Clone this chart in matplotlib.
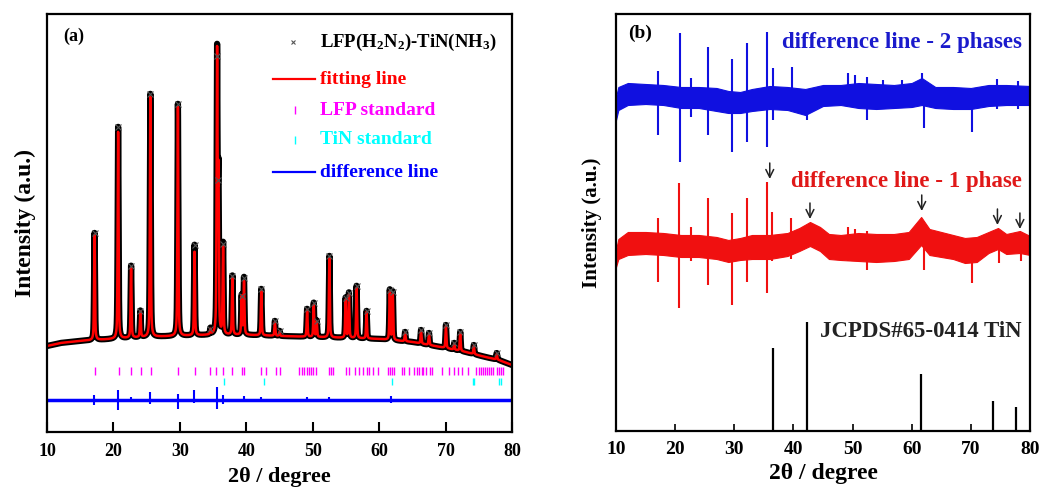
import numpy as np
import matplotlib.pyplot as plt

plt.rcParams['font.family'] = ['Liberation Serif', 'DejaVu Serif']
plt.rcParams['font.weight'] = 'bold'
plt.rcParams['mathtext.fontset'] = 'custom'
plt.rcParams['mathtext.rm'] = 'Liberation Serif:bold'
plt.rcParams['mathtext.it'] = 'Liberation Serif:italic:bold'
plt.rcParams['mathtext.bf'] = 'Liberation Serif:bold'

# ---- (a) Rietveld refinement ----
bg_x = [10, 12, 15, 20, 25, 30, 35, 40, 45, 50, 55, 60, 65, 70, 73, 76, 78, 80]
bg_y = [86, 89, 91, 93, 95, 96, 97, 97, 96, 95, 94, 93, 90, 84, 80, 75, 72, 67]

peak_pos = [17.15, 20.7, 22.65, 24.05, 25.55, 29.7, 32.2, 34.6, 35.6, 35.8, 36.5,
            37.9, 39.3, 39.65, 42.25, 44.3, 45.0, 49.15, 50.15, 50.6, 52.5, 54.95,
            55.45, 56.6, 58.1, 61.6, 62.05, 63.9, 66.3, 67.5, 70.05, 71.3, 72.2,
            74.25, 77.7]
peak_fit = [197, 300, 164, 120, 335, 325, 180, 102, 374, 250, 184,
            154, 135, 150, 141, 110, 100, 122, 127, 110, 174, 132,
            137, 144, 120, 140, 138, 99, 101, 98, 106, 88, 99,
            86, 78]
peak_obs = [199, 305, 166, 121, 338, 328, 187, 103, 376, 252, 188,
            156, 136, 154, 143, 111, 101, 123, 129, 111, 176, 134,
            139, 146, 121, 142, 140, 100, 102, 99, 107, 89, 100,
            87, 79]

lfp_ticks = [17.2, 20.8, 22.7, 24.1, 25.6, 29.7, 32.2, 34.6, 35.5, 36.5, 37.9,
             39.3, 39.6, 42.2, 42.9, 44.4, 45.0, 48.0, 48.4, 48.7, 49.1, 49.4,
             49.8, 50.1, 50.5, 52.5, 52.8, 53.1, 55.0, 55.4, 56.4, 57.0, 57.5,
             58.2, 58.5, 59.1, 59.9, 61.4, 61.7, 61.9, 62.2, 63.5, 63.8, 64.5,
             65.3, 65.7, 66.0, 66.4, 66.6, 67.1, 67.6, 68.0, 69.4, 70.5, 71.2,
             71.9, 72.4, 73.4, 74.6, 75.0, 75.3, 75.6, 75.9, 76.2, 76.5, 76.8,
             77.1, 77.8, 78.1, 78.4, 78.6]
tin_ticks = [36.7, 42.7, 62.0, 74.1, 74.3, 78.0, 78.3]

diff_a_base = 32
diff_a_pos = [17.1, 20.7, 22.7, 25.5, 29.7, 32.1, 35.6, 36.5, 39.6, 42.2, 49.2, 52.5, 61.8]
diff_a_up = [37, 42, 35, 40, 38, 42, 45, 37, 36, 35, 35, 35, 36]
diff_a_dn = [27, 22, 30, 28, 23, 29, 23, 28, 30, 30, 30, 30, 29]

# ---- (b) difference curves and TiN reference ----
blue_x = [10.0, 10.4, 12, 15, 18, 21, 24, 27, 29, 31, 33, 36, 39, 42, 45, 48,
          51, 54, 57, 60, 61.7, 64, 67, 70, 73, 76, 80]
blue_hi = [334, 344, 348, 347, 346, 344, 344, 343, 340, 339, 342, 345, 344, 342,
           346, 346, 348, 347, 346, 348, 353, 344, 344, 343, 346, 346, 345]
blue_lo = [311, 321, 326, 327, 326, 323, 323, 320, 318, 318, 320, 322, 321, 316,
           325, 326, 323, 322, 323, 324, 326, 323, 322, 322, 325, 326, 326]

red_x = [10.0, 10.4, 12, 15, 18, 21, 24, 27, 29, 31, 33, 36, 39, 41, 42.8, 44.5,
         46, 48, 51, 54, 57, 59.5, 61.6, 63, 65, 67, 69, 71, 73, 74.6, 76, 78.3, 80]
red_hi = [181, 192, 199, 199, 198, 196, 196, 194, 191, 193, 196, 196, 198, 203,
          209, 204, 197, 196, 198, 197, 197, 199, 214, 202, 199, 196, 193, 194,
          199, 203, 197, 200, 195]
red_lo = [164, 172, 176, 177, 176, 174, 174, 172, 169, 171, 172, 172, 175, 180,
          185, 180, 172, 171, 170, 169, 170, 172, 186, 176, 174, 172, 168, 169,
          178, 182, 177, 178, 176]

blue_spk_pos = [17.1, 20.8, 22.6, 25.5, 29.7, 32.2, 35.6, 36.5, 39.7, 42.3, 49.3,
                50.4, 52.4, 55.2, 58.3, 61.7, 62.1, 70.2, 74.4, 78.0]
blue_spk_up = [360, 398, 353, 384, 372, 388, 399, 363, 364, 340, 358,
               356, 354, 351, 351, 358, 345, 340, 352, 350]
blue_spk_dn = [296, 269, 314, 296, 279, 289, 284, 311, 323, 311, 325,
               325, 311, 325, 325, 326, 303, 299, 322, 322]

red_spk_pos = [17.1, 20.7, 22.6, 25.5, 29.7, 32.2, 35.5, 36.4, 39.6, 49.3, 50.4,
               52.4, 62.0, 70.2, 74.8, 78.4]
red_spk_up = [213, 248, 204, 233, 218, 233, 249, 219, 213, 204, 202,
              200, 200, 190, 200, 198]
red_spk_dn = [149, 123, 170, 146, 126, 149, 138, 170, 172, 170, 170,
              161, 161, 148, 168, 170]

tin_ref_pos = [36.5, 42.35, 61.6, 73.8, 77.6]
tin_ref_int = [83, 109, 57, 30, 24]

arrow_x = [36.0, 42.8, 61.7, 74.5, 78.3]
arrow_top = [268, 228, 236, 222, 218]
arrow_tip = [252, 212, 220, 206, 202]


def pv(x, c, h, w=0.16):
    g = np.exp(-4 * np.log(2) * ((x - c) / w) ** 2)
    l = 1 / (1 + 4 * ((x - c) / w) ** 2)
    return h * (0.5 * g + 0.5 * l)


def profile(x, tops):
    base = np.interp(x, bg_x, bg_y)
    y = base.copy()
    for c, t in zip(peak_pos, tops):
        y += pv(x, c, t - np.interp(c, bg_x, bg_y))
    return y


fig = plt.figure(figsize=(10.43, 4.93), dpi=100)
ax1 = fig.add_axes([0.0451, 0.1237, 0.4458, 0.8479])
ax2 = fig.add_axes([0.5906, 0.1258, 0.3969, 0.8458])

tt = np.linspace(10, 80, 14001)
ax1.plot(tt, profile(tt, peak_obs), color='black', lw=4.5, solid_capstyle='butt')
ax1.plot(tt, profile(tt, peak_fit), color='red', lw=1.8)
ax1.plot(peak_pos, peak_obs, ls='none', marker='x', ms=4, mew=0.8, color='#555555')
ax1.vlines(lfp_ticks, 57, 65, color='magenta', lw=1)
ax1.vlines(tin_ticks, 47, 54, color='cyan', lw=1)
ax1.plot([10, 80], [diff_a_base, diff_a_base], color='blue', lw=2.5)
ax1.vlines(diff_a_pos, diff_a_dn, diff_a_up, color='blue', lw=1.5)

ax1.set_xlim(10, 80)
ax1.set_ylim(0, 418)
ax1.set_yticks([])
ax1.set_xticks(range(10, 81, 10))
ax1.tick_params(axis='x', direction='in', length=7, width=1.5, labelsize=13, pad=8)
ax1.set_xlabel('2θ / degree', fontsize=16, fontweight='bold', labelpad=5)
ax1.set_ylabel('Intensity (a.u.)', fontsize=17, fontweight='bold', labelpad=8)
for s in ax1.spines.values():
    s.set_linewidth(1.6)
ax1.text(0.034, 0.947, '(a)', transform=ax1.transAxes, fontsize=13, va='center')

# hand-placed legend
ta = ax1.transAxes
ax1.plot([0.529], [0.933], transform=ta, marker='x', ms=3, mew=0.8, color='#555555')
ax1.text(0.587, 0.933, 'LFP(H$_2$N$_2$)-TiN(NH$_3$)', transform=ta, fontsize=13.5,
         va='center', color='black')
ax1.plot([0.486, 0.576], [0.844, 0.844], transform=ta, color='red', lw=1.6)
ax1.text(0.587, 0.844, 'fitting line', transform=ta, fontsize=14, va='center', color='red')
ax1.plot([0.533], [0.770], transform=ta, marker='|', ms=6, mew=1, color='magenta')
ax1.text(0.587, 0.770, 'LFP standard', transform=ta, fontsize=14, va='center', color='magenta')
ax1.plot([0.533], [0.699], transform=ta, marker='|', ms=6, mew=1, color='cyan')
ax1.text(0.587, 0.699, 'TiN standard', transform=ta, fontsize=14, va='center', color='cyan')
ax1.plot([0.486, 0.576], [0.622, 0.622], transform=ta, color='blue', lw=1.6)
ax1.text(0.587, 0.622, 'difference line', transform=ta, fontsize=14, va='center', color='blue')

# (b)
ax2.fill_between(blue_x, blue_lo, blue_hi, color='#1010e0', lw=0.8)
ax2.vlines(blue_spk_pos, blue_spk_dn, blue_spk_up, color='#1010e0', lw=1.5)
ax2.fill_between(red_x, red_lo, red_hi, color='#f01010', lw=0.8)
ax2.vlines(red_spk_pos, red_spk_dn, red_spk_up, color='#f01010', lw=1.5)
ax2.vlines(tin_ref_pos, 0, tin_ref_int, color='black', lw=1.6)
for xa, y0, y1 in zip(arrow_x, arrow_top, arrow_tip):
    ax2.annotate('', xy=(xa, y1), xytext=(xa, y0),
                 arrowprops=dict(arrowstyle='->', color='#222222', lw=1.1,
                                 mutation_scale=14, shrinkA=0, shrinkB=0))

ax2.text(78.6, 388, 'difference line - 2 phases', color='#1a1acc', fontsize=16.5,
         ha='right', va='center')
ax2.text(78.6, 249, 'difference line - 1 phase', color='#e01818', fontsize=16.5,
         ha='right', va='center')
ax2.text(78.6, 99, 'JCPDS#65-0414 TiN', color='#222222', fontsize=16.5,
         ha='right', va='center')
ax2.text(0.029, 0.954, '(b)', transform=ax2.transAxes, fontsize=14, va='center')

ax2.set_xlim(10, 80)
ax2.set_ylim(0, 417)
ax2.set_yticks([])
ax2.set_xticks(range(10, 81, 10))
ax2.tick_params(axis='x', direction='in', length=5, width=1.2, labelsize=14, pad=7)
ax2.set_xlabel('2θ / degree', fontsize=17, fontweight='bold', labelpad=4)
ax2.set_ylabel('Intensity (a.u.)', fontsize=15, fontweight='bold', labelpad=10)
for s in ax2.spines.values():
    s.set_linewidth(1.6)

fig.savefig('out.png', dpi=100)
